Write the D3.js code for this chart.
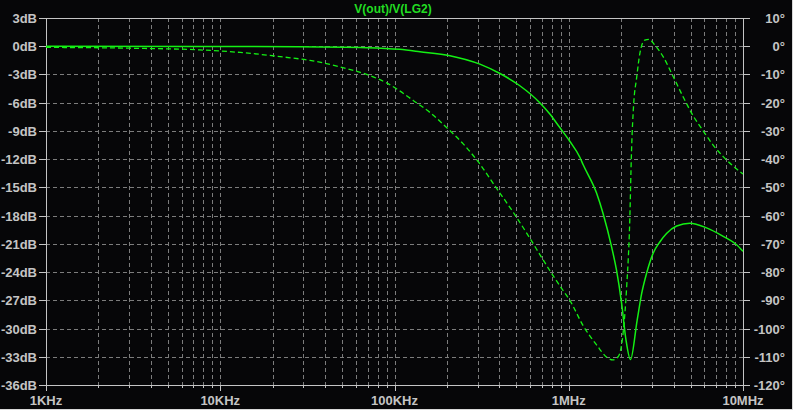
<!DOCTYPE html>
<html><head><meta charset="utf-8">
<script src="https://cdn.jsdelivr.net/npm/d3@7/dist/d3.min.js"></script>
<style>
html,body{margin:0;padding:0;background:#060608;overflow:hidden}
svg{display:block}
</style></head>
<body><svg id="c" width="793" height="410"></svg>
<script>
// ---- data ----
const title = "V(out)/V(LG2)";
const magFreq = [1e3, 7.65e3, 28.7e3, 69.5e3, 107e3, 140e3, 208e3, 309e3, 403e3, 524e3, 682e3, 779e3, 869e3, 1.014e6, 1.158e6, 1.21e6, 1.444e6, 1.575e6, 1.76e6, 1.88e6, 2.01e6, 2.13e6, 2.26e6, 2.47e6, 2.62e6, 2.80e6, 3.05e6, 3.33e6, 3.64e6, 4.16e6, 4.96e6, 6.18e6, 7.70e6, 9.19e6, 10e6];
const magDb = [0, -0.02, -0.05, -0.15, -0.33, -0.58, -1.0, -1.9, -2.9, -4.2, -6.0, -7.2, -8.4, -10.1, -11.8, -12.6, -15.6, -17.8, -21.3, -23.8, -27.3, -31.2, -33.3, -29.1, -26.3, -24.1, -22.0, -20.8, -19.9, -19.1, -18.8, -19.3, -20.2, -21.1, -21.8];
const phFreq = [1e3, 3.03e3, 7.65e3, 13.0e3, 22.9e3, 32.7e3, 48.6e3, 69.2e3, 90.1e3, 107e3, 128e3, 160e3, 199e3, 248e3, 302e3, 385e3, 480e3, 598e3, 713e3, 832e3, 929e3, 1.014e6, 1.21e6, 1.444e6, 1.68e6, 1.79e6, 1.92e6, 2.01e6, 2.05e6, 2.15e6, 2.24e6, 2.29e6, 2.36e6, 2.45e6, 2.56e6, 2.73e6, 2.89e6, 3.12e6, 3.48e6, 3.98e6, 4.53e6, 5.17e6, 5.91e6, 6.74e6, 7.70e6, 9.59e6, 10e6];
const phDeg = [-0.4, -0.7, -1.3, -2.2, -3.8, -5.0, -7.3, -10.0, -13.0, -15.8, -19.2, -23.5, -28.8, -34.6, -40.9, -50.3, -58.8, -68.0, -75.7, -82.2, -86.6, -90.0, -99.0, -105.8, -110.5, -111.1, -110.0, -105.8, -101.7, -85.2, -61.6, -37.9, -20.2, -11.4, -2.5, 2.2, 2.45, 0.4, -3.7, -10.8, -17.9, -24.6, -30.0, -35.0, -39.1, -44.4, -45.3];
const xTickVals = [1e3, 1e4, 1e5, 1e6, 1e7];
const xTickLabels = ["1KHz", "10KHz", "100KHz", "1MHz", "10MHz"];
const dbTicks = [3, 0, -3, -6, -9, -12, -15, -18, -21, -24, -27, -30, -33, -36];
const phTicks = [10, 0, -10, -20, -30, -40, -50, -60, -70, -80, -90, -100, -110, -120];

// ---- layout ----
const L = 46, R = 743, T = 18, B = 385;
const svg = d3.select("#c");
const x = d3.scaleLog().domain([1e3, 1e7]).range([L, R]);
const yDb = d3.scaleLinear().domain([-36, 3]).range([B, T]);
const yPh = d3.scaleLinear().domain([-120, 10]).range([B, T]);

const gridCol = "#7c7c7c", axCol = "#c4c4c4", txtCol = "#c4c4c4", green = "#14f014";
const font = "'Liberation Sans', Arial, sans-serif";

const vlines = [];
for (let d = 1e3; d < 1e7; d *= 10) for (let k = 1; k <= 9; k++) vlines.push(d * k);
vlines.push(1e7);

// grid
const grid = svg.append("g");
grid.selectAll("line.v").data(vlines.filter(v => v > 1e3 && v < 1e7)).enter().append("line")
  .attr("x1", d => Math.round(x(d)) + 0.5).attr("x2", d => Math.round(x(d)) + 0.5)
  .attr("y1", T).attr("y2", B)
  .attr("stroke", gridCol).attr("stroke-width", 1).attr("stroke-dasharray", "4,3");
grid.selectAll("line.h").data(dbTicks.filter(v => v < 3 && v > -36)).enter().append("line")
  .attr("x1", L).attr("x2", R)
  .attr("y1", d => Math.round(yDb(d)) + 0.5).attr("y2", d => Math.round(yDb(d)) + 0.5)
  .attr("stroke", gridCol).attr("stroke-width", 1).attr("stroke-dasharray", "4,3");

// frame
svg.append("rect").attr("x", L + 0.5).attr("y", T + 0.5).attr("width", R - L).attr("height", B - T)
  .attr("fill", "none").attr("stroke", axCol).attr("stroke-width", 1);

// left axis
const la = svg.append("g");
la.selectAll("line").data(dbTicks).enter().append("line")
  .attr("x1", L - 7).attr("x2", L).attr("y1", d => Math.round(yDb(d)) + 0.5).attr("y2", d => Math.round(yDb(d)) + 0.5)
  .attr("stroke", axCol);
la.selectAll("text").data(dbTicks).enter().append("text")
  .attr("x", 37).attr("y", d => yDb(d) + 5)
  .attr("text-anchor", "end").attr("fill", txtCol).attr("font-family", font)
  .attr("font-size", 13).attr("font-weight", "bold").text(d => d + "dB");

// right axis
const ra = svg.append("g");
ra.selectAll("line").data(phTicks).enter().append("line")
  .attr("x1", R).attr("x2", R + 7).attr("y1", d => Math.round(yPh(d)) + 0.5).attr("y2", d => Math.round(yPh(d)) + 0.5)
  .attr("stroke", axCol);
ra.selectAll("text").data(phTicks).enter().append("text")
  .attr("x", 785).attr("y", d => yPh(d) + 5)
  .attr("text-anchor", "end").attr("fill", txtCol).attr("font-family", font)
  .attr("font-size", 13).attr("font-weight", "bold").text(d => d + "\u00B0");

// bottom axis
const ba = svg.append("g");
ba.selectAll("line").data(vlines).enter().append("line")
  .attr("x1", d => Math.round(x(d)) + 0.5).attr("x2", d => Math.round(x(d)) + 0.5)
  .attr("y1", B).attr("y2", d => xTickVals.includes(d) ? B + 6 : B + 3)
  .attr("stroke", axCol);
ba.selectAll("text").data(xTickVals).enter().append("text")
  .attr("x", d => x(d)).attr("y", 405)
  .attr("text-anchor", "middle").attr("fill", txtCol).attr("font-family", font)
  .attr("font-size", 13).attr("font-weight", "bold").text((d, i) => xTickLabels[i]);

// title
svg.append("text").attr("x", 393).attr("y", 13).attr("text-anchor", "middle")
  .attr("fill", "#22dd22").attr("font-family", font).attr("font-size", 12).attr("font-weight", "bold")
  .text(title);

// curves
const magData = magFreq.map((f, i) => [f, magDb[i]]);
const phData = phFreq.map((f, i) => [f, phDeg[i]]);
const magLine = d3.line().x(d => x(d[0])).y(d => yDb(d[1])).curve(d3.curveMonotoneX);
const phLine = d3.line().x(d => x(d[0])).y(d => yPh(d[1])).curve(d3.curveMonotoneX);
svg.append("path").attr("d", phLine(phData)).attr("fill", "none").attr("stroke", green)
  .attr("stroke-width", 1.3).attr("stroke-dasharray", "5,3");
svg.append("path").attr("d", magLine(magData)).attr("fill", "none").attr("stroke", green)
  .attr("stroke-width", 1.5);

// window border
svg.append("line").attr("x1", 792.5).attr("x2", 792.5).attr("y1", 0).attr("y2", 410).attr("stroke", "#d8d8d8");
svg.append("line").attr("x1", 0).attr("x2", 793).attr("y1", 409.5).attr("y2", 409.5).attr("stroke", "#d8d8d8");
</script></body></html>
